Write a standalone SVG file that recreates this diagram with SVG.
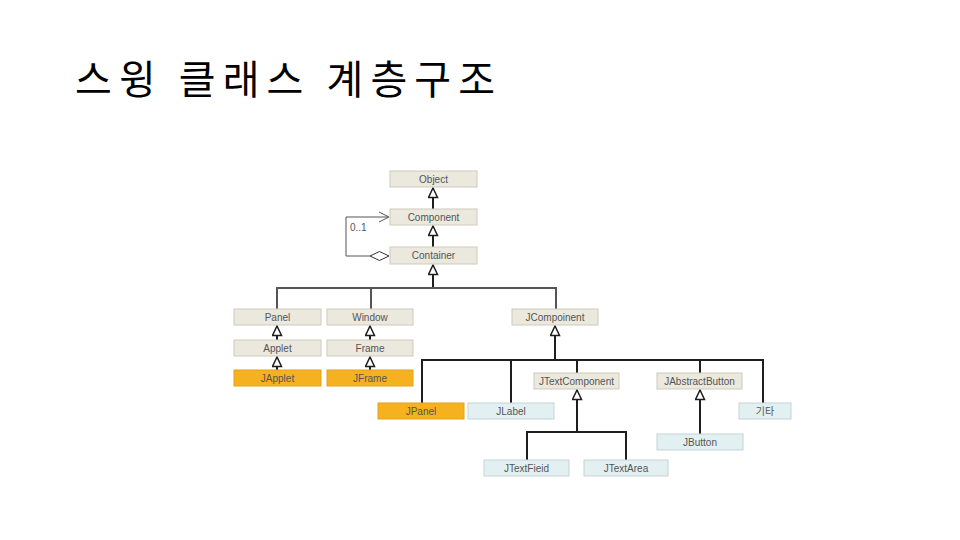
<svg xmlns="http://www.w3.org/2000/svg" width="960" height="540" viewBox="0 0 960 540">
<style>
.b{fill:#ebe8de;stroke:#cfcabd;stroke-width:1}
.o{fill:#f5b120;stroke:#e6a21a;stroke-width:1}
.c{fill:#e3f0f1;stroke:#c3d3d6;stroke-width:1}
.t{font-family:"Liberation Sans",Arial,sans-serif;font-size:10px;fill:#555;text-anchor:middle}
.ln{fill:none;stroke:#1e1e1e;stroke-width:2}
.lg{fill:none;stroke:#555;stroke-width:2}
.thin{fill:none;stroke:#555;stroke-width:1}
.title{font-family:"Noto Sans CJK KR","Noto Sans CJK SC",sans-serif;font-size:40px;fill:#000}
</style>
<defs>
<marker id="tri" markerUnits="userSpaceOnUse" markerWidth="12" markerHeight="12" viewBox="0 0 12 12" refX="10.5" refY="5" orient="auto">
<path d="M1,0.5 L10.5,5 L1,9.5 Z" fill="#fff" stroke="#1e1e1e" stroke-width="1.5"/>
</marker>
</defs>
<rect width="960" height="540" fill="#fff"/>
<text class="title" x="75" y="94" textLength="420" lengthAdjust="spacing">스윙 클래스 계층구조</text>

<g id="connectors">
<line class="ln" x1="433" y1="209" x2="433" y2="188" marker-end="url(#tri)"/>
<line class="ln" x1="433" y1="247" x2="433" y2="226" marker-end="url(#tri)"/>
<line class="ln" x1="433" y1="288" x2="433" y2="265" marker-end="url(#tri)"/>
<path class="lg" d="M277,309 V288 H556 V309 M371,288 V309"/>
<line class="ln" x1="277" y1="340" x2="277" y2="326" marker-end="url(#tri)"/>
<line class="ln" x1="277" y1="370" x2="277" y2="357" marker-end="url(#tri)"/>
<line class="ln" x1="370" y1="340" x2="370" y2="326" marker-end="url(#tri)"/>
<line class="ln" x1="370" y1="370" x2="370" y2="357" marker-end="url(#tri)"/>
<line class="ln" x1="555" y1="360" x2="555" y2="326" marker-end="url(#tri)"/>
<path class="ln" d="M422,403 V360 H763 V403 M511,360 V403 M577,360 V373 M700,360 V373"/>
<line class="ln" x1="577" y1="432" x2="577" y2="390" marker-end="url(#tri)"/>
<path class="ln" d="M527,460 V432 H626 V460"/>
<line class="ln" x1="700" y1="434" x2="700" y2="390" marker-end="url(#tri)"/>
<path class="thin" d="M370,256 H346 V217 H388"/>
<path class="thin" d="M379,212 L389,217 L379,222"/>
<path d="M370,256 L379.5,251.5 L389,256 L379.5,260.5 Z" fill="#fff" stroke="#333" stroke-width="1"/>
<text class="t" x="350" y="231" style="text-anchor:start">0..1</text>
</g>

<g id="object"><rect class="b" x="390" y="171" width="87" height="16"/><text class="t" x="433.5" y="182.5">Object</text></g>
<g id="component"><rect class="b" x="390" y="209" width="87" height="16"/><text class="t" x="433.5" y="220.5">Component</text></g>
<g id="container"><rect class="b" x="390" y="247" width="87" height="17"/><text class="t" x="433.5" y="259">Container</text></g>
<g id="panel"><rect class="b" x="234" y="309" width="87" height="16"/><text class="t" x="277.5" y="320.5">Panel</text></g>
<g id="window"><rect class="b" x="327" y="309" width="86" height="16"/><text class="t" x="370" y="320.5">Window</text></g>
<g id="applet"><rect class="b" x="234" y="340" width="87" height="16"/><text class="t" x="277.5" y="351.5">Applet</text></g>
<g id="frame"><rect class="b" x="327" y="340" width="86" height="16"/><text class="t" x="370" y="351.5">Frame</text></g>
<g id="japplet"><rect class="o" x="234" y="370" width="87" height="16"/><text class="t" x="277.5" y="381.5">JApplet</text></g>
<g id="jframe"><rect class="o" x="327" y="370" width="86" height="16"/><text class="t" x="370" y="381.5">JFrame</text></g>
<g id="jcomponent"><rect class="b" x="512" y="309" width="86" height="16"/><text class="t" x="555" y="320.5">JCompoinent</text></g>
<g id="jtextcomponent"><rect class="b" x="534" y="373" width="85" height="16"/><text class="t" x="576.5" y="384.5">JTextComponent</text></g>
<g id="jabstractbutton"><rect class="b" x="657" y="373" width="85" height="16"/><text class="t" x="699.5" y="384.5">JAbstractButton</text></g>
<g id="jpanel"><rect class="o" x="378" y="403" width="86" height="16"/><text class="t" x="421" y="414.5">JPanel</text></g>
<g id="jlabel"><rect class="c" x="468" y="403" width="86" height="16"/><text class="t" x="511" y="414.5">JLabel</text></g>
<g id="etc"><rect class="c" x="739" y="403" width="52" height="16"/><text class="t" x="765" y="414.5" style="font-family:'Noto Sans CJK KR',sans-serif">기타</text></g>
<g id="jbutton"><rect class="c" x="657" y="434" width="86" height="16"/><text class="t" x="700" y="445.5">JButton</text></g>
<g id="jtextfield"><rect class="c" x="484" y="460" width="85" height="16"/><text class="t" x="526.5" y="471.5">JTextFieid</text></g>
<g id="jtextarea"><rect class="c" x="584" y="460" width="84" height="16"/><text class="t" x="626" y="471.5">JTextArea</text></g>
</svg>
